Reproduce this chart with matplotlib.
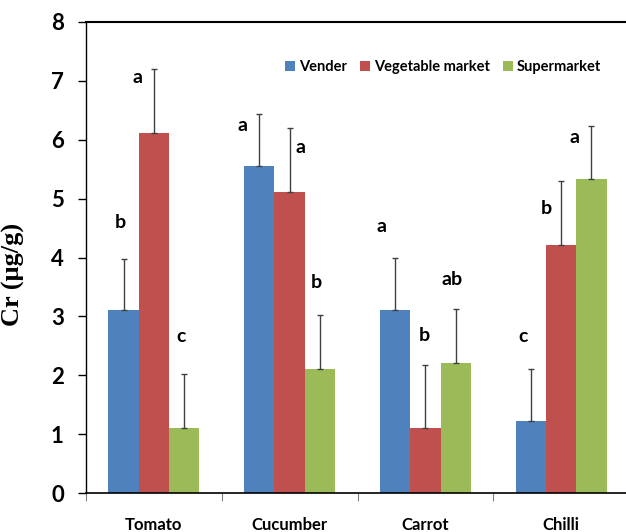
import matplotlib
matplotlib.use("Agg")
import matplotlib.pyplot as plt
import numpy as np

# data
categories = ["Tomato", "Cucumber", "Carrot", "Chilli"]
series = ["Vender", "Vegetable market", "Supermarket"]
vender = [3.10, 5.55, 3.10, 1.23]
vegetable = [6.11, 5.12, 1.10, 4.21]
supermarket = [1.10, 2.10, 2.21, 5.33]
vender_err = [0.88, 0.88, 0.89, 0.88]
vegetable_err = [1.09, 1.08, 1.07, 1.09]
supermarket_err = [0.92, 0.92, 0.92, 0.90]
letters = [["b", "a", "a", "c"], ["a", "a", "b", "b"], ["c", "b", "ab", "a"]]
letter_y = [[4.60, 6.25, 4.52, 2.65], [7.06, 5.87, 2.68, 4.84], [2.65, 3.57, 3.62, 6.04]]
letter_dx = [[-0.25, -0.35, -0.32, -0.28], [-0.12, 0.08, -0.01, -0.11], [0.20, 0.20, 0.20, 0.10]]

colors = ["#4F81BD", "#C0504D", "#9BBB59"]

fig = plt.figure(figsize=(6.26, 5.32), dpi=100)
ax = fig.add_axes([86 / 626, 39 / 532, 543 / 626, 471 / 532])

x = np.arange(len(categories))
w = 0.223
values = [vender, vegetable, supermarket]
errs = [vender_err, vegetable_err, supermarket_err]
for i, (vals, err) in enumerate(zip(values, errs)):
    pos = x + (i - 1) * w
    ax.bar(pos, vals, w, color=colors[i], label=series[i], edgecolor="none", zorder=2)
    ax.errorbar(pos, vals, yerr=[np.zeros(len(vals)), err], fmt="none",
                ecolor="#404040", elinewidth=1, capsize=2.5, capthick=1, zorder=3)
    for j in range(len(categories)):
        ax.text(x[j] + letter_dx[i][j], letter_y[i][j], letters[i][j],
                ha="center", va="center", fontsize=14, fontweight="bold",
                family="Lato")

ax.set_xlim(-0.5, 3.5)
ax.set_ylim(0, 8)
ax.set_yticks(range(0, 9))
ax.set_yticklabels([str(v) for v in range(0, 9)], fontsize=16, fontweight="bold", family="Lato")
ax.tick_params(axis="y", direction="out", length=6, width=1, pad=10)

ax.set_xticks(x)
ax.set_xticklabels(categories, fontsize=12, fontweight="bold", family="Lato")
ax.tick_params(axis="x", length=0, pad=17)
ax.set_xticks(np.arange(-0.5, 3.6, 1), minor=True)
ax.tick_params(axis="x", which="minor", direction="out", length=6, width=0.8, color="#808080")

ax.set_ylabel("Cr (μg/g)", fontsize=19, fontweight="bold", family="Liberation Serif")
ax.yaxis.set_label_coords(-0.112, 0.463)

ax.spines["right"].set_visible(False)
ax.spines["top"].set_linewidth(1.5)
ax.spines["left"].set_linewidth(1)
ax.spines["bottom"].set_linewidth(1.2)

leg = ax.legend(loc="center left", bbox_to_anchor=(186 / 543, (493 - 67) / 471), ncol=3,
                frameon=False, handlelength=0.7, handleheight=0.7, handletextpad=0.25,
                columnspacing=0.9, prop={"family": "Lato", "weight": "bold", "size": 10.5})

fig.savefig("out.png", dpi=100)
